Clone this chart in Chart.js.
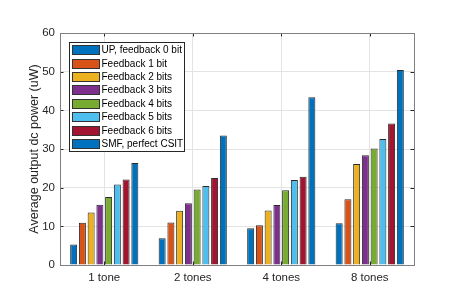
<!DOCTYPE html>
<html>
<head>
<meta charset="utf-8">
<script src="https://cdn.jsdelivr.net/npm/chart.js@4/dist/chart.umd.min.js"></script>
<style>
  html, body { margin: 0; padding: 0; background: #fff; }
  #wrap { width: 457px; height: 298px; }
</style>
</head>
<body>
<div id="wrap"><canvas id="chart" width="457" height="298"></canvas></div>
<script>
const categories = ['1 tone', '2 tones', '4 tones', '8 tones'];
const seriesNames = ['UP, feedback 0 bit', 'Feedback 1 bit', 'Feedback 2 bits', 'Feedback 3 bits',
  'Feedback 4 bits', 'Feedback 5 bits', 'Feedback 6 bits', 'SMF, perfect CSIT'];
const seriesColors = ['#0072BD', '#D95319', '#EDB120', '#7E2F8E', '#77AC30', '#4DBEEE', '#A2142F', '#0072BD'];
const up0 = [5.3, 6.9, 9.5, 10.8];
const fb1 = [10.9, 11.0, 10.3, 17.0];
const fb2 = [13.6, 14.0, 14.1, 26.1];
const fb3 = [15.6, 16.0, 15.5, 28.4];
const fb4 = [17.6, 19.5, 19.3, 30.1];
const fb5 = [20.8, 20.4, 22.0, 32.6];
const fb6 = [22.1, 22.5, 22.8, 36.6];
const smf = [26.4, 33.5, 43.4, 50.4];
const yTicks = [0, 10, 20, 30, 40, 50, 60];

const allSeries = [up0, fb1, fb2, fb3, fb4, fb5, fb6, smf];
const axisColor = '#262626';
const font = 'Liberation Sans, Arial, sans-serif';

// MATLAB-style box with inward ticks on all four sides
const boxPlugin = {
  id: 'box',
  afterDatasetsDraw(chart) {
    const { ctx, chartArea: a, scales } = chart;
    ctx.save();
    ctx.strokeStyle = axisColor;
    ctx.lineWidth = 1;
    ctx.beginPath();
    scales.y.ticks.forEach((t, i) => {
      const y = Math.round(scales.y.getPixelForTick(i)) + 0.5;
      ctx.moveTo(a.left, y); ctx.lineTo(a.left + 3.5, y);
      ctx.moveTo(a.right, y); ctx.lineTo(a.right - 3.5, y);
    });
    categories.forEach((c, i) => {
      const x = Math.round(scales.x.getPixelForValue(i)) + 0.5;
      ctx.moveTo(x, a.bottom); ctx.lineTo(x, a.bottom - 3.5);
      ctx.moveTo(x, a.top); ctx.lineTo(x, a.top + 3.5);
    });
    ctx.stroke();
    ctx.strokeStyle = '#808080';
    ctx.strokeRect(Math.round(a.left) + 0.5, Math.round(a.top) + 0.5,
      Math.round(a.right - a.left), Math.round(a.bottom - a.top));
    ctx.restore();
  }
};

// legend drawn inside the axes, upper left
const boxLegend = {
  id: 'boxLegend',
  afterDraw(chart) {
    const { ctx, chartArea: a } = chart;
    const x0 = Math.round(a.left) + 9.5, y0 = Math.round(a.top) + 9.5;
    const w = 115, rowH = 13.4, h = Math.round(rowH * chart.data.datasets.length + 2);
    ctx.save();
    ctx.fillStyle = '#fff';
    ctx.fillRect(x0, y0, w, h);
    ctx.strokeStyle = axisColor;
    ctx.lineWidth = 1;
    ctx.strokeRect(x0, y0, w, h);
    ctx.font = '10px ' + font;
    ctx.textBaseline = 'middle';
    chart.data.datasets.forEach((ds, i) => {
      const cy = Math.round(y0 + 1 + rowH * (i + 0.5));
      ctx.fillStyle = ds.backgroundColor;
      ctx.fillRect(x0 + 3, cy - 4.5, 27, 9);
      ctx.strokeStyle = '#333';
      ctx.strokeRect(x0 + 3, cy - 4.5, 27, 9);
      ctx.fillStyle = '#000';
      ctx.fillText(ds.label, x0 + 32, cy + 0.5);
    });
    ctx.restore();
  }
};

new Chart(document.getElementById('chart'), {
  type: 'bar',
  data: {
    labels: categories,
    datasets: allSeries.map((vals, i) => ({
      label: seriesNames[i],
      data: vals,
      backgroundColor: seriesColors[i],
      borderColor: '#2a2a2a',
      borderWidth: 1,
      borderSkipped: 'start',
      categoryPercentage: 0.79,
      barPercentage: 0.8
    }))
  },
  options: {
    responsive: false,
    animation: false,
    layout: { padding: { left: 27, right: 43, top: 33, bottom: 0 } },
    plugins: { legend: { display: false }, tooltip: { enabled: false } },
    scales: {
      x: {
        afterFit: s => { s.height = 33; },
        grid: { offset: false, color: '#e3e3e3', drawTicks: false },
        border: { display: false },
        ticks: { color: axisColor, font: { family: font, size: 11.5 }, padding: 6 }
      },
      y: {
        min: 0, max: 60,
        afterFit: s => { s.width = 33; },
        afterBuildTicks: s => { s.ticks = yTicks.map(v => ({ value: v })); },
        grid: { color: '#e3e3e3', drawTicks: false },
        border: { display: false },
        ticks: { color: axisColor, font: { family: font, size: 11.5 }, padding: 5 },
        title: {
          display: true, text: 'Average output dc power (uW)', color: axisColor,
          font: { family: font, size: 12.5 }, padding: { top: 0, bottom: 0 }
        }
      }
    }
  },
  plugins: [boxPlugin, boxLegend]
});
</script>
</body>
</html>
